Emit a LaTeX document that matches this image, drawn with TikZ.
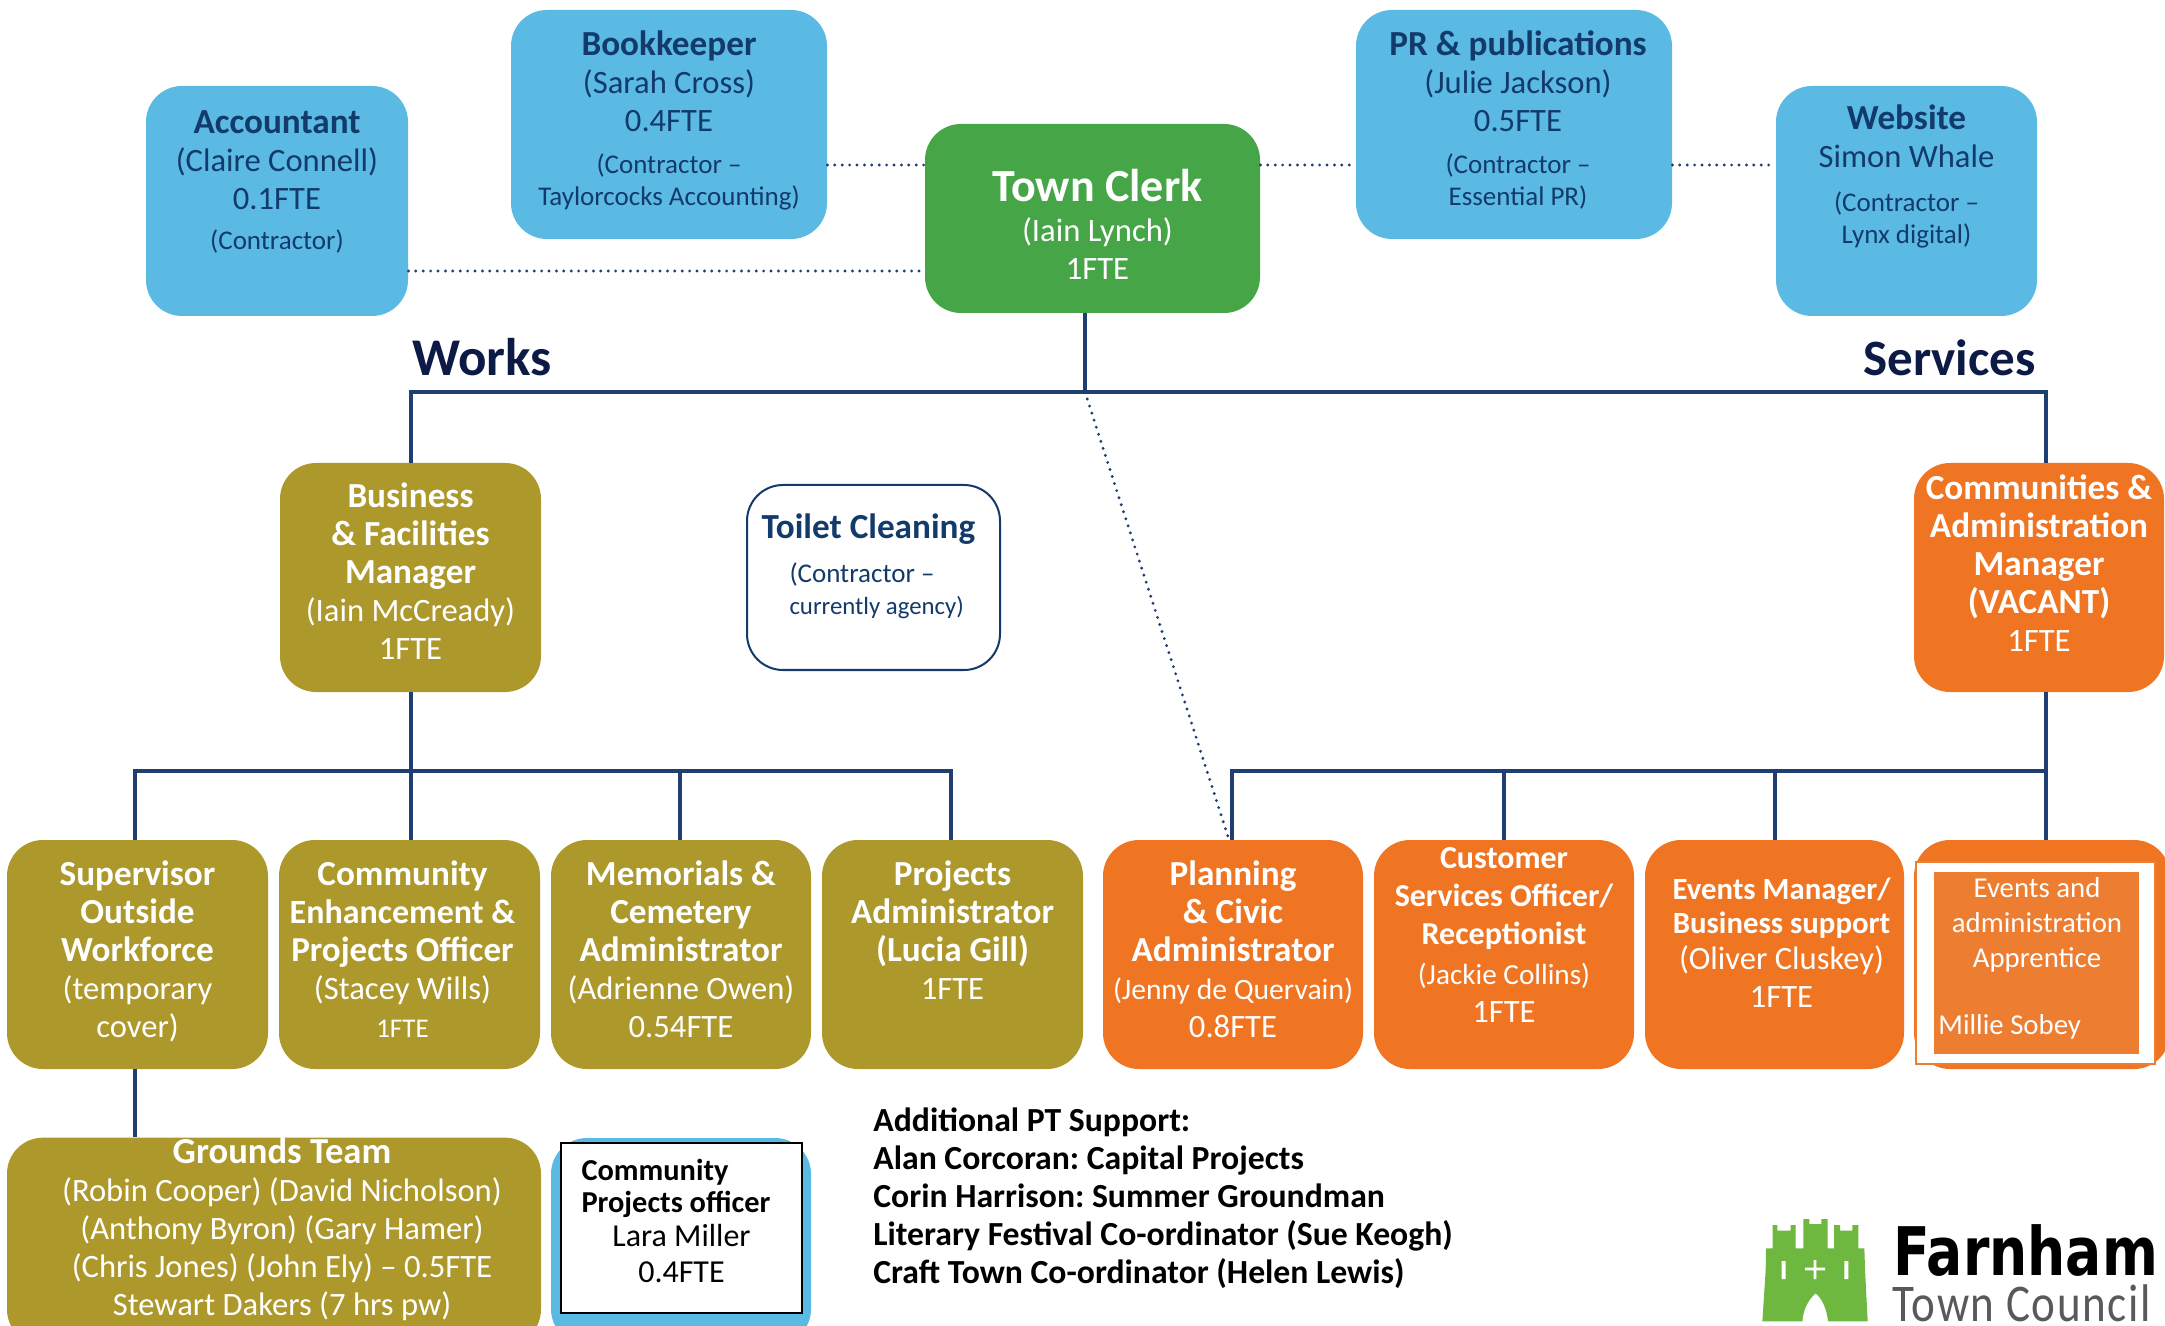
\documentclass[tikz,border=0pt]{standalone}
\usepackage{fontspec}
\setmainfont{Carlito}
\newfontface\logobold[FakeStretch=0.8]{DejaVu Sans Bold}
\newfontface\logothin[LetterSpace=3,FakeStretch=0.85]{Carlito}
\definecolor{cblue}{HTML}{5ABAE3}
\definecolor{cgreen}{HTML}{46A546}
\definecolor{colive}{HTML}{AD982C}
\definecolor{corange}{HTML}{F07522}
\definecolor{corange2}{HTML}{ED7D31}
\definecolor{cnavy}{HTML}{123A6B}
\definecolor{cline}{HTML}{1F3F73}
\definecolor{chead}{HTML}{0C1A45}
\definecolor{clogo}{HTML}{6FB83F}
\newcommand\orgbox[7]{%
  \pgfmathsetlengthmacro\bw{(#4-#2)*0.5}%
  \pgfmathsetlengthmacro\bh{(#5-#3)*0.5}%
  \node[#6,minimum width=\bw,minimum height=\bh] (#1) at ({(#2+#4)/2},{(#3+#5)/2}) {#7};}
\newcommand\Bf[1]{{\fontsize{17.6}{19}\selectfont\bfseries #1}}
\newcommand\Bs[2]{{\fontsize{#1}{19}\selectfont\bfseries #2}}
\newcommand\Rs[2]{{\fontsize{#1}{19}\selectfont #2}}
\newcommand\Sm[1]{{\fontsize{13.5}{16}\selectfont #1}}
\newcommand\nudgeup[1]{\\[\dimexpr #1pt*2 - 19pt\relax]\mbox{}}
\newcommand\nudgedown[1]{\mbox{}\\[\dimexpr #1pt*2 - 19pt\relax]}
\tikzset{
  x=0.5pt,y=-0.5pt,
  org/.style={rounded corners=18pt,inner sep=0pt,align=center,text=white,
    font=\fontsize{16.3}{19}\selectfont},
  bluebox/.style={org,fill=cblue,text=cnavy},
  greenbox/.style={org,fill=cgreen},
  olivebox/.style={org,fill=colive},
  orangebox/.style={org,fill=corange},
  tlink/.style={draw=cline,line width=1.6pt},
  dlink/.style={draw=cline,line width=1.6pt,line cap=round,dash pattern=on 0pt off 3.7pt},
  heading/.style={inner sep=0pt,text=chead,font=\selectfont\bfseries},
  freetext/.style={inner sep=0pt,text=white,align=center,font=\fontsize{14.4}{17.5}\selectfont},
}
\begin{document}
\frenchspacing
\begin{tikzpicture}
\path[use as bounding box,clip] (0,0) rectangle (2165,1326);
\fill[white] (0,0) rectangle (2165,1326);

% top row
\orgbox{acc}{146}{86}{408}{316}{bluebox}{\Bf{Accountant}\\(Claire Connell)\\0.1FTE\\[1pt]\Sm{(Contractor)}\nudgeup{10.7}}
\orgbox{book}{511}{10}{827}{239}{bluebox}{\Bf{Bookkeeper}\\(Sarah Cross)\\0.4FTE\\[2pt]\Sm{(Contractor --}\\[-3pt]\Sm{Taylorcocks Accounting)}\nudgeup{3}}
\orgbox{clerk}{925}{124}{1260}{313}{greenbox}{\mbox{}\\[3pt]\hspace*{5pt}{\fontsize{23}{24}\selectfont\bfseries Town Clerk}\\[1pt]\hspace*{5pt}(Iain Lynch)\\\hspace*{5pt}1FTE}
\orgbox{pr}{1356}{10}{1672}{239}{bluebox}{\hspace*{4pt}\Bf{PR \& publications}\\\hspace*{4pt}(Julie Jackson)\\\hspace*{4pt}0.5FTE\\[2pt]\hspace*{4pt}\Sm{(Contractor --}\\[-3pt]\hspace*{4pt}\Sm{Essential PR)}\nudgeup{3}}
\orgbox{web}{1776}{86}{2037}{316}{bluebox}{\Bf{Website}\\Simon Whale\\[3pt]\Sm{(Contractor --}\\[-3pt]\Sm{Lynx digital)}\nudgeup{13.3}}

\node[heading,anchor=base west,font=\fontsize{26.5}{28}\selectfont\bfseries] (works) at (412,376) {Works};
\node[heading,anchor=base east,font=\fontsize{25.5}{28}\selectfont\bfseries] (services) at (2036,376) {Services};

% second row
\orgbox{biz}{280}{463}{541}{692}{olivebox}{\Bf{Business}\\\Bf{\& Facilities}\\\Bf{Manager}\\(Iain McCready)\\1FTE\nudgeup{3}}
\orgbox{toilet}{747}{485}{1000}{670}{org,fill=white,draw=cnavy,line width=1pt,text=cnavy}{\makebox[112pt][l]{\Bf{Toilet Cleaning}}\\[3pt]\makebox[84pt][l]{\Sm{(Contractor --}}\\[-3pt]\makebox[84pt][l]{\fontsize{12.4}{16}\selectfont currently agency)}\nudgeup{6.5}}
\orgbox{comm}{1914}{463}{2164}{692}{orangebox}{\Bf{Communities \&}\\\Bf{Administration}\\\Bf{Manager}\\\Bf{(VACANT)}\\1FTE\nudgeup{7}}

% third row
\orgbox{sup}{7}{840}{268}{1069}{olivebox}{\Bf{Supervisor}\\\Bf{Outside}\\\Bf{Workforce}\\(temporary\\cover)\nudgeup{2.5}}
\orgbox{ceo}{279}{840}{540}{1069}{olivebox}{\hspace*{-7pt}\Bf{Community}\\\hspace*{-7pt}\Bs{17}{Enhancement \&}\\\hspace*{-7pt}\Bs{17.5}{Projects Officer}\\\hspace*{-7pt}(Stacey Wills)\\\hspace*{-7pt}\Sm{1FTE}\nudgeup{2.5}}
\orgbox{mem}{551}{840}{811}{1069}{olivebox}{\Bf{Memorials \&}\\\Bf{Cemetery}\\\Bf{Administrator}\\(Adrienne Owen)\\0.54FTE\nudgeup{2.5}}
\orgbox{proj}{822}{840}{1083}{1069}{olivebox}{\Bf{Projects}\\\Bf{Administrator}\\\Bf{(Lucia Gill)}\\1FTE\nudgeup{12}}
\orgbox{plan}{1103}{840}{1363}{1069}{orangebox}{\Bf{Planning}\\\Bf{\& Civic}\\\Bf{Administrator}\\\Rs{14.8}{(Jenny de Quervain)}\\0.8FTE\nudgeup{2.5}}
\orgbox{cust}{1374}{840}{1634}{1069}{orangebox}{\Bs{16}{Customer}\\\Bs{16}{Services Officer/}\\\Bs{16}{Receptionist}\\[1pt]\Rs{14.6}{(Jackie Collins)}\\1FTE\nudgeup{9.5}}
\orgbox{evt}{1645}{840}{1904}{1069}{orangebox}{\hspace*{7pt}\Bs{15.4}{Events Manager/}\\[-2pt]\hspace*{7pt}\Bs{15.4}{Business support}\\[-1pt]\hspace*{7pt}(Oliver Cluskey)\\\hspace*{7pt}1FTE\nudgeup{6}}
\orgbox{app}{1914}{840}{2170}{1069}{orangebox}{}
\orgbox{appw}{1916}{862}{2155}{1064}{fill=white,draw=corange2,line width=1pt,inner sep=0pt}{}
\orgbox{appi}{1934}{872}{2139}{1054}{fill=corange2,inner sep=0pt}{}
\node[freetext] (apptitle) at (2037,925) {Events and\\administration\\Apprentice};
\node[freetext,anchor=base west] (appname) at (1938,1034) {Millie Sobey};

% bottom row
\orgbox{grounds}{7}{1138}{541}{1345}{olivebox}{\hspace*{8pt}\Bs{18.3}{Grounds Team}\\\hspace*{8pt}(Robin Cooper) (David Nicholson)\\\hspace*{8pt}(Anthony Byron) (Gary Hamer)\\\hspace*{8pt}(Chris Jones) (John Ely) -- 0.5FTE\\\hspace*{8pt}Stewart Dakers (7 hrs pw)\nudgeup{7.5}}
\orgbox{cpob}{551}{1138}{811}{1345}{bluebox}{}
\orgbox{cpo}{561}{1143}{802}{1313}{fill=white,draw=black,line width=0.6pt,inner sep=0pt,align=center,text=black,font=\fontsize{16}{19}\selectfont}{\makebox[100pt][l]{\Bs{15.2}{Community}}\\[-3pt]\makebox[100pt][l]{\Bs{15.2}{Projects officer}}\\[-1.7pt]Lara Miller\\[-1pt]0.4FTE\nudgeup{3.5}}

% connectors
\coordinate (hub) at (1085,392);
\coordinate (hubw) at (411,392);
\coordinate (hube) at (2046,392);
\draw[tlink] (clerk.south -| hub) -- (hub);
\draw[tlink] (biz.north -| hubw) -- (hubw) -- (hube) -- (hube |- comm.north);
\coordinate (lw) at (135,771);
\coordinate (le) at (951,771);
\draw[tlink] (biz.south -| hubw) -- (hubw |- lw);
\draw[tlink] (sup.north -| lw) -- (lw) -- (le) -- (le |- proj.north);
\draw[tlink] (hubw |- lw) -- (hubw |- ceo.north);
\coordinate (m3) at (680,771);
\draw[tlink] (m3) -- (m3 |- mem.north);
\coordinate (rw) at (1232,771);
\coordinate (r2) at (1504,771);
\coordinate (r3) at (1775,771);
\coordinate (re) at (2046,771);
\draw[tlink] (comm.south -| re) -- (re |- app.north);
\draw[tlink] (plan.north -| rw) -- (rw) -- (re);
\draw[tlink] (r2) -- (r2 |- cust.north);
\draw[tlink] (r3) -- (r3 |- evt.north);
\draw[tlink] (sup.south -| lw) -- (grounds.north -| lw);
\coordinate (pd) at (1229,0);
\draw[dlink] (hub) -- (plan.north -| pd);
\coordinate (y1) at (0,271);
\coordinate (y2) at (0,165);
\draw[dlink] (acc.east |- y1) -- (clerk.west |- y1);
\draw[dlink] (book.east |- y2) -- (clerk.west |- y2);
\draw[dlink] (clerk.east |- y2) -- (pr.west |- y2);
\draw[dlink] (pr.east |- y2) -- (web.west |- y2);

% additional support
\node[inner sep=0pt,anchor=north west,align=left,text=black,font=\fontsize{16.85}{19}\selectfont\bfseries] (addl) at (873,1107)
{Additional PT Support:\\Alan Corcoran: Capital Projects\\Corin Harrison: Summer Groundman\\Literary Festival Co-ordinator (Sue Keogh)\\Craft Town Co-ordinator (Helen Lewis)};

% logo
\begin{scope}[shift={(1700,1180)},x=0.1667pt,y=-0.1667pt]
\fill[clogo] (187,424) -- (197,270) -- (198,205) -- (218,205) -- (218,135) -- (232,135) -- (232,152) -- (272,152) -- (272,135) -- (287,135) -- (287,205) -- (310,205) -- (310,117) -- (328,117) -- (328,132) -- (364,132) -- (364,117) -- (383,117) -- (383,205) -- (402,205) -- (402,135) -- (420,135) -- (420,152) -- (457,152) -- (457,135) -- (475,135) -- (475,205) -- (493,205) -- (495,270) -- (503,424) -- (384,424) .. controls (380,385) and (365,355) .. (347,340) .. controls (328,355) and (310,385) .. (307,424) -- cycle;
\fill[white] (245,243) rectangle (257,297) (433,243) rectangle (445,297) (315,263) rectangle (375,271) (341,240) rectangle (349,297);
\end{scope}
\node[inner sep=0pt,anchor=base west,text=black,font=\logobold\fontsize{33.5}{36}\selectfont] (farnham) at (1893,1275) {Farnham};
\node[inner sep=0pt,anchor=base west,text=black!65,font=\logothin\fontsize{26.5}{28}\selectfont] (council) at (1892,1321) {Town Council};
\end{tikzpicture}
\end{document}
